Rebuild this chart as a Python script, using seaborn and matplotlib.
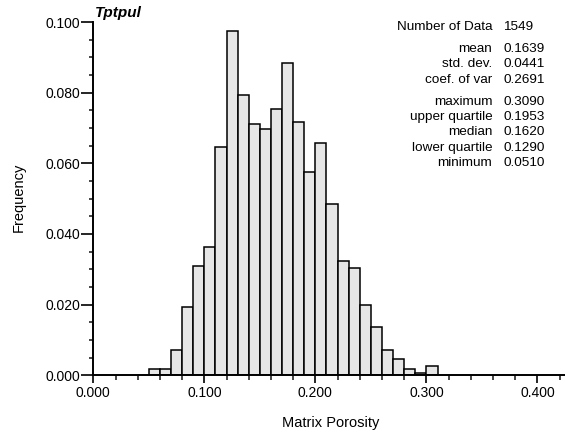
import matplotlib
matplotlib.use("Agg")
import matplotlib.pyplot as plt
import seaborn as sns
import numpy as np
import pandas as pd
from matplotlib.ticker import MultipleLocator, FormatStrFormatter

# ---- data ----
bin_width = 0.01
bin_lefts = [0.05, 0.06, 0.07, 0.08, 0.09, 0.10, 0.11, 0.12, 0.13, 0.14, 0.15, 0.16, 0.17,
             0.18, 0.19, 0.20, 0.21, 0.22, 0.23, 0.24, 0.25, 0.26, 0.27, 0.28, 0.29, 0.30]
frequencies = [0.0019, 0.0019, 0.0071, 0.0194, 0.0310, 0.0362, 0.0646, 0.0975, 0.0794, 0.0710,
               0.0697, 0.0755, 0.0884, 0.0717, 0.0575, 0.0658, 0.0484, 0.0323, 0.0303, 0.0200,
               0.0136, 0.0071, 0.0045, 0.0019, 0.0006, 0.0026]
title = "Tptpul"
x_label = "Matrix Porosity"
y_label = "Frequency"
stat_labels = ["Number of Data", "mean", "std. dev.", "coef. of var",
               "maximum", "upper quartile", "median", "lower quartile", "minimum"]
stat_values = ["1549", "0.1639", "0.0441", "0.2691",
               "0.3090", "0.1953", "0.1620", "0.1290", "0.0510"]

sns.set_style("white")
plt.rcParams['font.family'] = ['Liberation Sans', 'DejaVu Sans']

W, H = 565, 437
fig = plt.figure(figsize=(W / 100, H / 100), dpi=100)
ax_left, ax_right, ax_top, ax_bottom = 93.3, 565.0, 22.0, 375.3
ax = fig.add_axes([ax_left / W, 1 - ax_bottom / H, (ax_right - ax_left) / W, (ax_bottom - ax_top) / H])

df = pd.DataFrame({"center": np.array(bin_lefts) + bin_width / 2, "freq": frequencies})
sns.histplot(data=df, x="center", weights="freq", binwidth=bin_width,
             binrange=(bin_lefts[0], bin_lefts[-1] + bin_width), stat="count",
             color="#e6e6e6", edgecolor="black", linewidth=1.1, alpha=1.0, ax=ax)

ax.set_xlim(0, 0.4248)
ax.set_ylim(0, 0.1)
ax.xaxis.set_major_locator(MultipleLocator(0.1))
ax.xaxis.set_minor_locator(MultipleLocator(0.02))
ax.yaxis.set_major_locator(MultipleLocator(0.02))
ax.yaxis.set_minor_locator(MultipleLocator(0.005))
ax.xaxis.set_major_formatter(FormatStrFormatter("%.3f"))
ax.yaxis.set_major_formatter(FormatStrFormatter("%.3f"))

for s in ["top", "right"]:
    ax.spines[s].set_visible(False)
for s in ["left", "bottom"]:
    ax.spines[s].set_linewidth(1.4)
    ax.spines[s].set_color("black")

ax.tick_params(axis="x", which="major", direction="out", length=6, width=1.2, labelsize=10,
               pad=2, colors="black", bottom=True)
ax.tick_params(axis="x", which="minor", direction="out", length=3.6, width=1.2, bottom=True)
ax.tick_params(axis="y", which="major", direction="out", length=8.4, width=1.2, labelsize=10,
               pad=1, colors="black", left=True)
ax.tick_params(axis="y", which="minor", direction="out", length=3, width=1.2, left=True)

ax.set_xlabel("")
ax.set_ylabel("")
fig.text(331 / W, 1 - 423.3 / H, x_label, ha="center", va="center", fontsize=10.5, color="black")
fig.text(19 / W, 1 - 197 / H, y_label, ha="center", va="center", rotation=90, fontsize=10.5, color="black")
fig.text(95 / W, 1 - 13.5 / H, title, ha="left", va="center", fontsize=11,
         fontweight="bold", fontstyle="italic", color="black")

ys = [27.5, 49.3, 64.0, 79.7, 101.7, 117.0, 132.3, 147.7, 163.3]
for lab, val, y in zip(stat_labels, stat_values, ys):
    fig.text(492.3 / W, 1 - y / H, lab, ha="right", va="center", fontsize=9.7, color="black")
    fig.text(503.3 / W, 1 - y / H, val, ha="left", va="center", fontsize=9.7, color="black")

fig.savefig("out.png", dpi=100)
